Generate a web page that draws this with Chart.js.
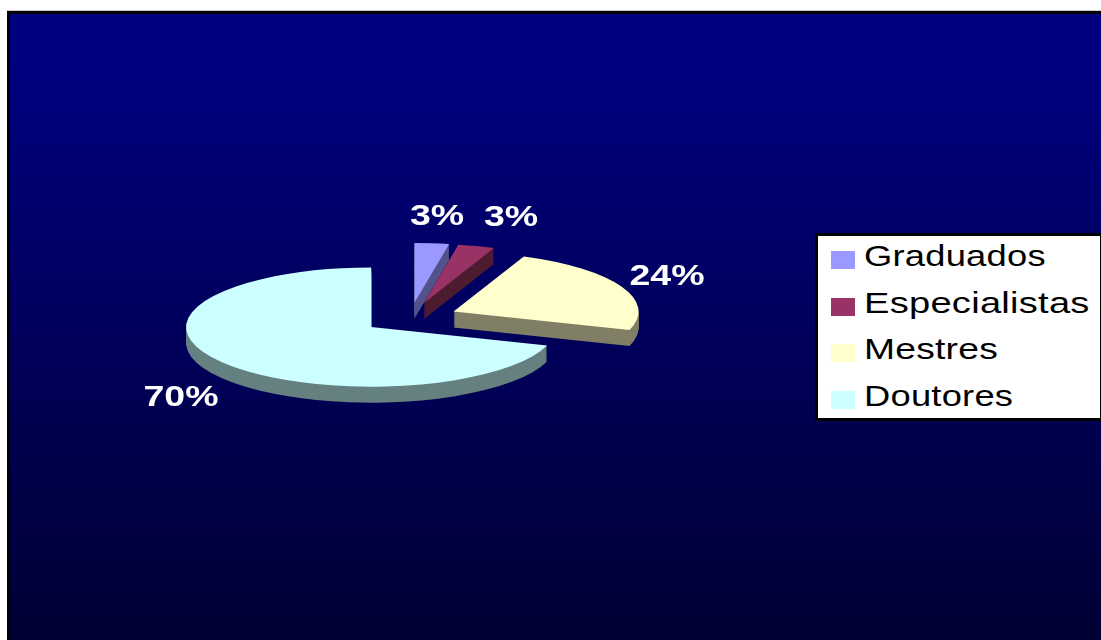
<!DOCTYPE html>
<html>
<head>
<meta charset="utf-8">
<title>Titulação</title>
<script src="https://cdn.jsdelivr.net/npm/chart.js@4"></script>
<style>
    html, body { margin: 0; padding: 0; width: 1101px; height: 640px; overflow: hidden; background: #fff; }
    #frame {
        position: absolute; left: 7px; top: 11px; right: 0; bottom: 0;
        border-left: 3px solid #000; border-top: 3px solid #000;
        background: linear-gradient(to bottom, #000080 0%, #000080 8%, #000033 100%);
    }
    #topline { position: absolute; left: 7px; right: 0; top: 10px; height: 1px; background: #c8c8c8; }
    #pie { position: absolute; left: 0; top: 0; }
    #legend {
        position: absolute; left: 815px; top: 233px; width: 282px; height: 182px;
        background: #fff; border: 3px solid #000; border-right-width: 1px;
        font-family: "Liberation Sans", Arial, sans-serif; font-size: 30px; color: #000;
    }
    #legend .swatch { position: absolute; left: 13px; width: 24px; height: 18px; }
    #legend .name {
        position: absolute; left: 46px; line-height: 30px; white-space: nowrap;
        transform-origin: left center; letter-spacing: 0.2px;
    }
</style>
</head>
<body>
<div id="topline"></div>
<div id="frame"></div>
<canvas id="pie" width="1101" height="640"></canvas>
<div id="legend"></div>
<script>
// Chart data
const categories = ['Graduados', 'Especialistas', 'Mestres', 'Doutores'];
const shares = [3, 3.2, 23.8, 70];
const sliceColors = ['#9999FF', '#993366', '#FFFFCC', '#CCFFFF'];
const sideColors = ['#53538A', '#4D1C30', '#807F66', '#668080'];

// Fake 3D look
const TILT = 0.322;
const DEPTH = 16;
const EXPLODE = 48;
const RADIUS = 185;

// Where the percent labels sit, centre of text
const labelSpots = [[437, 217], [511, 218], [667, 277], [181, 398]];
// The legend text is stretched a bit wider in the original
const legendStretch = [1.21, 1.27, 1.24, 1.21];

// Draws the pie squashed and extruded, Chart.js still works out the arcs
const tiltedPie = {
    id: 'tiltedPie',
    beforeDatasetsDraw: function(chart) {
        const ctx = chart.ctx;
        const arcs = chart.getDatasetMeta(0).data;

        function drawSlice(arc, color, drop) {
            const mid = (arc.startAngle + arc.endAngle) / 2;
            const saved = arc.options;
            ctx.save();
            ctx.translate(arc.x, arc.y + drop);
            ctx.scale(1, TILT);
            ctx.translate(Math.cos(mid) * EXPLODE, Math.sin(mid) * EXPLODE);
            ctx.translate(-arc.x, -arc.y);
            arc.options = Object.assign({}, saved, { backgroundColor: color });
            arc.draw(ctx);
            arc.options = saved;
            ctx.restore();
        }

        // sides first, from the bottom layer up
        for (let drop = DEPTH; drop > 0; drop--) {
            arcs.forEach(function(arc, i) { drawSlice(arc, sideColors[i], drop); });
        }
        arcs.forEach(function(arc, i) { drawSlice(arc, sliceColors[i], 0); });

        // percent labels
        ctx.save();
        ctx.fillStyle = '#fff';
        ctx.font = 'bold 30px "Liberation Sans", Arial, sans-serif';
        ctx.textAlign = 'center';
        ctx.textBaseline = 'middle';
        shares.forEach(function(value, i) {
            ctx.save();
            ctx.translate(labelSpots[i][0], labelSpots[i][1]);
            ctx.scale(1.25, 1);
            ctx.fillText(Math.round(value) + '%', 0, 0);
            ctx.restore();
        });
        ctx.restore();
        return false;
    }
};

new Chart(document.getElementById('pie'), {
    type: 'pie',
    data: {
        labels: categories,
        datasets: [{
            data: shares,
            backgroundColor: sliceColors,
            borderWidth: 0,
            radius: RADIUS,
            clip: false
        }]
    },
    options: {
        responsive: false,
        animation: false,
        layout: { padding: { right: 281, bottom: 4 } },
        plugins: {
            legend: { display: false },
            tooltip: { enabled: false }
        }
    },
    plugins: [tiltedPie]
});

// Legend box
const legend = document.getElementById('legend');
categories.forEach(function(name, i) {
    const swatch = document.createElement('div');
    swatch.className = 'swatch';
    swatch.style.top = (15 + i * 46.7) + 'px';
    swatch.style.background = sliceColors[i];
    legend.appendChild(swatch);

    const label = document.createElement('div');
    label.className = 'name';
    label.style.top = (5 + i * 46.7) + 'px';
    label.style.transform = 'scaleX(' + legendStretch[i] + ')';
    label.textContent = name;
    legend.appendChild(label);
});
</script>
</body>
</html>
